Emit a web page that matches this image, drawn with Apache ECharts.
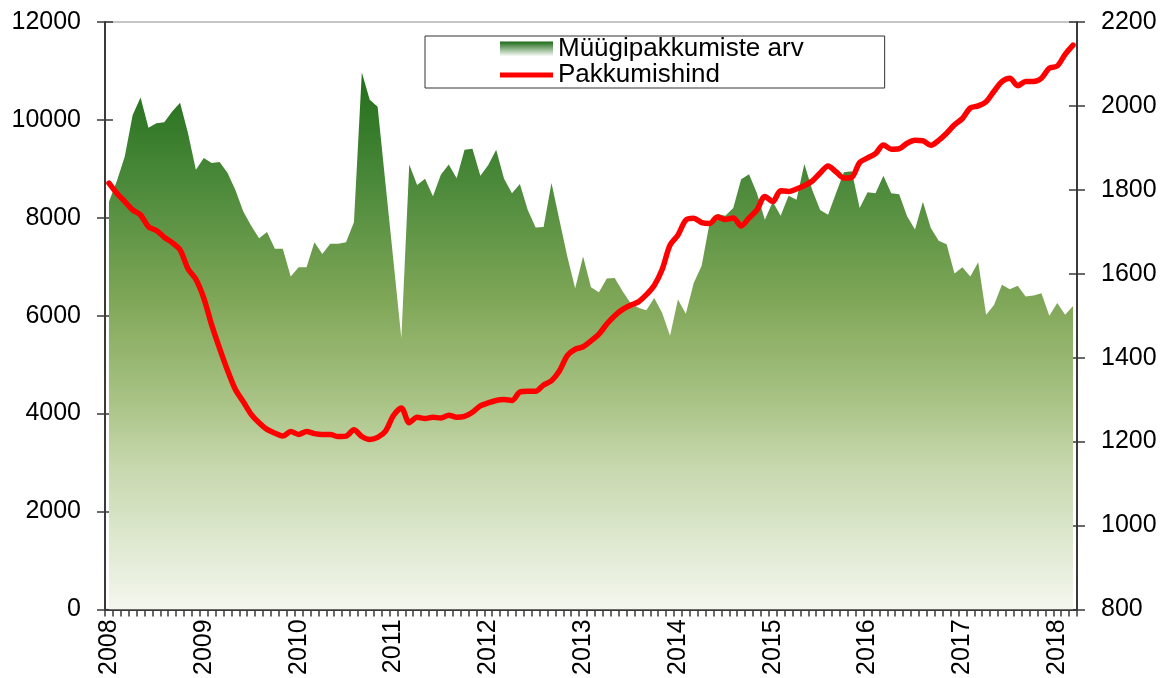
<!DOCTYPE html>
<html>
<head>
<meta charset="utf-8">
<script src="https://cdn.jsdelivr.net/npm/echarts@6/dist/echarts.min.js"></script>
<style>
html,body{margin:0;padding:0;background:#fff;}
#chart{width:1169px;height:678px;}
</style>
</head>
<body>
<div id="chart"></div>
<script>
// Monthly categories Jan 2008 – Mar 2018
const categories = [];
for (let y = 2008; y <= 2018; y++) {
  for (let m = 1; m <= 12; m++) {
    if (y === 2018 && m > 3) break;
    categories.push(y + '-' + (m < 10 ? '0' + m : m));
  }
}
const seriesNames = ['Müügipakkumiste arv', 'Pakkumishind'];
const leftTicks = [0, 12000, 2000];
const rightTicks = [800, 2200, 200];

const offersCount = [
  8330, 8750, 9250, 10100, 10460, 9840, 9930, 9950, 10170, 10350, 9730, 8980,
  9220, 9120, 9140, 8920, 8570, 8130, 7840, 7580, 7710, 7370, 7370, 6800,
  6990, 6990, 7500, 7260, 7470, 7470, 7500, 7910, 10970, 10410, 10270, 8690,
  7120, 5540, 9090, 8670, 8800, 8440, 8880, 9090, 8810, 9390, 9410, 8860,
  9080, 9390, 8800, 8500, 8690, 8160, 7800, 7810, 8710, 7960, 7210, 6560,
  7210, 6580, 6480, 6760, 6770, 6500, 6260, 6160, 6110, 6360, 6060, 5590,
  6330, 6040, 6670, 7020, 7890, 8080, 8040, 8200, 8790, 8890, 8500, 7960,
  8330, 8040, 8450, 8370, 9100, 8570, 8160, 8060, 8500, 8930, 8950, 8200,
  8520, 8500, 8860, 8500, 8480, 8030, 7760, 8330, 7790, 7530, 7460, 6860,
  6990, 6800, 7090, 6020, 6220, 6630, 6540, 6610, 6390, 6410, 6460, 6000,
  6260, 6020, 6200
];

const offerPrice = [
  1816, 1792, 1772, 1752, 1740, 1712, 1703, 1687, 1674, 1657, 1612, 1587,
  1542, 1478, 1422, 1370, 1324, 1295, 1265, 1245, 1229, 1220, 1213, 1224,
  1217, 1224, 1219, 1217, 1217, 1212, 1213, 1228, 1212, 1205, 1210, 1225,
  1262, 1280, 1245, 1258, 1255, 1258, 1256, 1263, 1258, 1260, 1270, 1285,
  1292, 1298, 1300, 1298, 1318, 1320, 1320, 1335, 1345, 1368, 1405, 1420,
  1426, 1440, 1456, 1480, 1500, 1515, 1525, 1533, 1550, 1572, 1610, 1668,
  1692, 1728, 1732, 1722, 1720, 1735, 1729, 1733, 1714, 1733, 1752, 1784,
  1772, 1798, 1796, 1802, 1810, 1821, 1840, 1857, 1843, 1828, 1830, 1865,
  1876, 1886, 1907, 1897, 1898, 1911, 1918, 1917, 1906, 1918, 1935, 1955,
  1970, 1995, 2000, 2010, 2035, 2058, 2066, 2048, 2058, 2058, 2066, 2090,
  2095, 2123, 2145
];

const chart = echarts.init(document.getElementById('chart'), null, {renderer: 'canvas'});
const FONT = 'Liberation Sans, Arial, sans-serif';
const axisColor = '#3a3a3a';

const areaGradient = new echarts.graphic.LinearGradient(0, 60, 0, 610, [
  {offset: 0.00, color: '#1c6a16'},
  {offset: 0.20, color: '#468637'},
  {offset: 0.44, color: '#80a758'},
  {offset: 0.62, color: '#a9c385'},
  {offset: 0.74, color: '#c7d8ae'},
  {offset: 1.00, color: '#f4f7ef'}
], true);

const legendGradient = new echarts.graphic.LinearGradient(0, 0, 0, 1, [
  {offset: 0, color: '#1c6a16'},
  {offset: 1, color: '#ffffff'}
]);

function catAxis(main) {
  return {
    type: 'category',
    data: categories,
    boundaryGap: true,
    position: 'bottom',
    axisLine: {show: main, lineStyle: {color: axisColor, width: 2}},
    axisTick: {show: true, interval: 0, inside: !main, length: 7, lineStyle: {color: axisColor, width: 1.5}},
    axisLabel: {
      show: main,
      interval: function (idx) { return idx % 12 === 0; },
      formatter: function (v) { return v.slice(0, 4); },
      rotate: 90,
      margin: 10,
      color: '#000',
      fontSize: 25,
      fontFamily: FONT
    },
    splitLine: {show: false}
  };
}

function valAxis(main, pos, rng) {
  return {
    type: 'value',
    position: pos,
    min: rng[0], max: rng[1], interval: rng[2],
    axisLine: {show: main, onZero: false, lineStyle: {color: axisColor, width: 2}},
    axisTick: {show: true, inside: !main, length: 8, lineStyle: {color: axisColor, width: 1.5}},
    axisLabel: {
      show: main, margin: 24, color: '#000', fontSize: 25, fontFamily: FONT,
      formatter: function (v) { return String(v); }
    },
    splitLine: {show: false}
  };
}

chart.setOption({
  animation: false,
  backgroundColor: '#ffffff',
  grid: {left: 105, right: 92, top: 22, bottom: 68, show: true, borderColor: '#8c8c8c', borderWidth: 1, backgroundColor: 'transparent', containLabel: false},
  legend: {
    orient: 'vertical',
    left: 425, top: 36,
    padding: [0, 81, 0, 75],
    itemGap: 0,
    itemWidth: 53,
    itemHeight: 15,
    backgroundColor: '#ffffff',
    borderColor: '#333333',
    borderWidth: 1,
    borderRadius: 0,
    textStyle: {color: '#000', fontSize: 26, lineHeight: 26, fontFamily: FONT},
    data: [
      {name: seriesNames[0], icon: 'rect', itemStyle: {color: legendGradient}},
      {name: seriesNames[1], icon: 'path://M0,0 L0,0 M0,5 L53,5 L53,10 L0,10 Z M53,15 L53,15', itemStyle: {color: '#ff0000'}}
    ]
  },
  xAxis: [catAxis(true), catAxis(false)],
  yAxis: [
    valAxis(true, 'left', leftTicks),
    valAxis(false, 'left', leftTicks),
    valAxis(true, 'right', rightTicks),
    valAxis(false, 'right', rightTicks)
  ],
  series: [
    {
      name: seriesNames[0],
      type: 'line',
      xAxisIndex: 0, yAxisIndex: 0,
      data: offersCount,
      symbol: 'none',
      showSymbol: false,
      lineStyle: {width: 0, color: '#2a7322'},
      itemStyle: {color: '#2a7322'},
      areaStyle: {color: areaGradient, opacity: 1},
      z: 1
    },
    {
      name: seriesNames[1],
      type: 'line',
      xAxisIndex: 0, yAxisIndex: 2,
      data: offerPrice,
      symbol: 'none',
      showSymbol: false,
      smooth: 0.3,
      lineStyle: {width: 5.5, color: '#ff0000', cap: 'round', join: 'round'},
      itemStyle: {color: '#ff0000'},
      z: 3
    }
  ]
});
</script>
</body>
</html>
